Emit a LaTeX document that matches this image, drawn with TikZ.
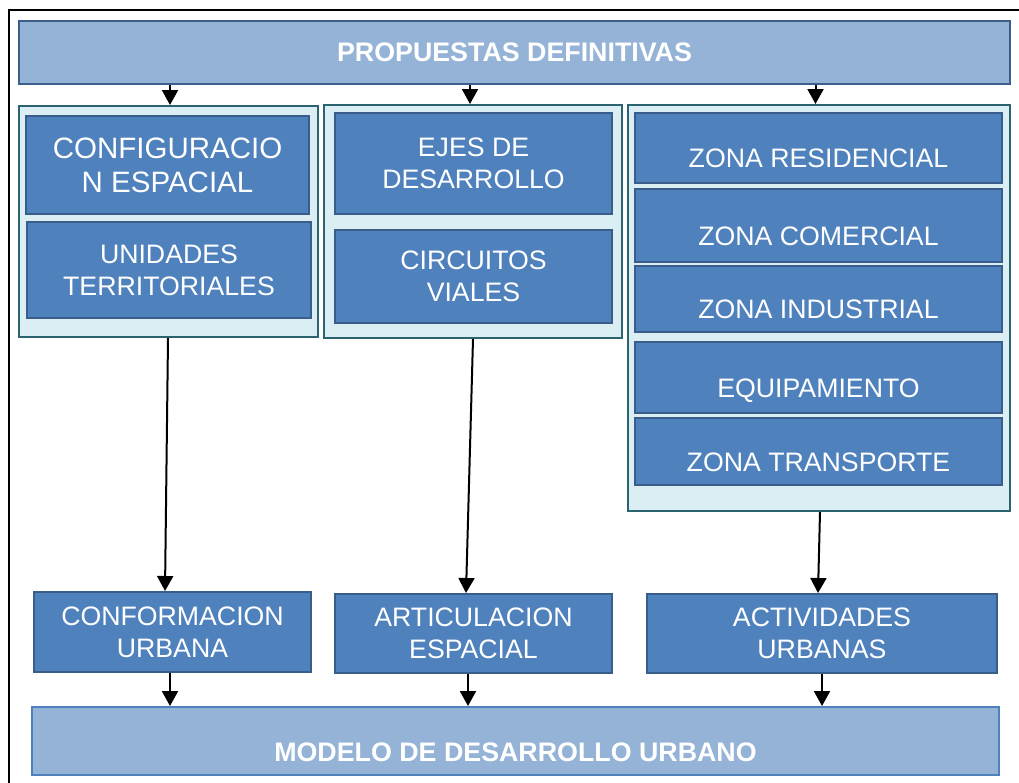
\documentclass[tikz,border=0pt]{standalone}
\usepackage{fontspec}
\setmainfont{Liberation Sans}
\usetikzlibrary{arrows.meta,calc}
\definecolor{barfill}{HTML}{95B3D7}
\definecolor{bardraw}{HTML}{3A5F8C}
\definecolor{boxfill}{HTML}{4F81BD}
\definecolor{boxdraw}{HTML}{385D8A}
\definecolor{contfill}{HTML}{DBEEF4}
\definecolor{contdraw}{HTML}{2B6470}
\definecolor{lowdraw}{HTML}{4F81BD}
\tikzset{
  bar/.style={draw=bardraw,fill=barfill,line width=2pt,text=white,
    font=\fontsize{26.8}{30}\selectfont\bfseries,inner sep=0pt},
  cont/.style={draw=contdraw,fill=contfill,line width=2pt,inner sep=0pt},
  ibox/.style={draw=boxdraw,fill=boxfill,line width=2pt,text=white,align=center,
    font=\fontsize{26.7}{32}\selectfont,inner sep=0pt},
  zbox/.style={ibox,text height=39pt,text depth=0pt},
  arr/.style={draw=black,line width=2pt,-{Triangle[width=16pt,length=15pt]}},
}
\begin{document}
\begin{tikzpicture}[x=1pt,y=-1pt]
\useasboundingbox (0,0) rectangle (1019,782);
\fill[white] (0,0) rectangle (1019,782);
\draw[black,line width=2pt] (1030,10) -- (9,10) -- (9,800);
% top bar
\node[bar,minimum width=991pt,minimum height=63pt] (top) at (514.5,52.5) {PROPUESTAS DEFINITIVAS};
% containers
\node[cont,minimum width=299pt,minimum height=231pt] (c1) at (168.5,221.5) {};
\node[cont,minimum width=298pt,minimum height=233pt] (c2) at (473,221.5) {};
\node[cont,minimum width=382pt,minimum height=406pt] (c3) at (819,308) {};
% column 1
\node[ibox,font=\fontsize{29.5}{34}\selectfont,minimum width=283pt,minimum height=98pt] (cfg) at (167.5,165) {CONFIGURACIO\\N ESPACIAL};
\node[ibox,minimum width=284pt,minimum height=96pt] (uni) at (169,270) {UNIDADES\\TERRITORIALES};
% column 2
\node[ibox,minimum width=277pt,minimum height=101pt] (eje) at (473.5,163.5) {EJES DE\\DESARROLLO};
\node[ibox,minimum width=277pt,minimum height=93pt] (cir) at (473.5,276.5) {CIRCUITOS\\VIALES};
% column 3
\node[zbox,minimum width=367pt,minimum height=70pt] (zr) at (818.5,148) {ZONA RESIDENCIAL};
\node[zbox,minimum width=367pt,minimum height=73pt] (zc) at (818.5,225.5) {ZONA COMERCIAL};
\node[zbox,minimum width=367pt,minimum height=66pt] (zi) at (818.5,299) {ZONA INDUSTRIAL};
\node[zbox,minimum width=367pt,minimum height=71pt] (eq) at (818.5,377.5) {EQUIPAMIENTO};
\node[zbox,minimum width=367pt,minimum height=67pt] (zt) at (818.5,451.5) {ZONA TRANSPORTE};
% lower boxes
\node[ibox,minimum width=277pt,minimum height=80pt] (b1) at (172.5,632) {CONFORMACION\\URBANA};
\node[ibox,minimum width=277pt,minimum height=79pt] (b2) at (473.5,633.5) {ARTICULACION\\ESPACIAL};
\node[ibox,minimum width=350pt,minimum height=79pt] (b3) at (822,633.5) {ACTIVIDADES\\URBANAS};
% bottom bar
\node[bar,draw=lowdraw,minimum width=967pt,minimum height=68pt,text height=41pt,text depth=0pt] (bot) at (515.5,741) {MODELO DE DESARROLLO URBANO};
% arrows top
\draw[arr] ($(c1.north |- top.south)+(1.5,0)$) -- ($(c1.north)+(1.5,0)$);
\draw[arr] ($(c2.north |- top.south)+(-3,0)$) -- ($(c2.north)+(-3,0)$);
\draw[arr] ($(c3.north |- top.south)+(-3.5,0)$) -- ($(c3.north)+(-3.5,0)$);
% arrows middle
\draw[arr] ($(c1.south)+(-0.5,0)$) -- ($(b1.north)+(-7.5,0)$);
\draw[arr] (c2.south) -- ($(b2.north)+(-7.5,0)$);
\draw[arr] ($(c3.south)+(1,0)$) -- ($(b3.north)+(-4,0)$);
% arrows bottom
\draw[arr] ($(b1.south)+(-2.5,0)$) -- ($(bot.north -| b1.south)+(-2.5,0)$);
\draw[arr] ($(b2.south)+(-5.5,0)$) -- ($(bot.north -| b2.south)+(-5.5,0)$);
\draw[arr] (b3.south) -- (bot.north -| b3.south);
\end{tikzpicture}
\end{document}
